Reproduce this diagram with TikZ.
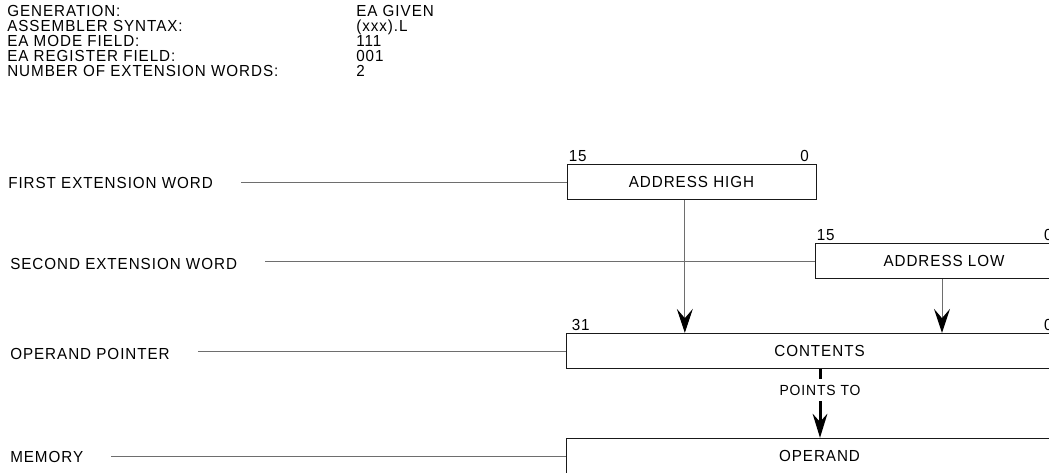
\documentclass[tikz,border=0pt]{standalone}
\usepackage{fontspec}
\setmainfont{Liberation Sans}[FakeStretch=0.95, LetterSpace=6]
\usetikzlibrary{arrows.meta}

\begin{document}
\begin{tikzpicture}[x=0.75pt,y=0.75pt,yscale=-1,xscale=1,
  every node/.style={font=\fontsize{12}{13}\selectfont},
  info/.style={anchor=west, inner sep=0pt},
  head/.style={anchor=base west, inner sep=0pt},
  word/.style={draw={rgb, 255:red, 25; green, 25; blue, 25}, line width=0.75pt, minimum height=26.5pt, inner sep=0pt},
  bit/.style={inner sep=1.5pt},
  lead/.style={draw={rgb, 255:red, 110; green, 110; blue, 110}, line width=0.75pt, shorten <=21pt},
  feed/.style={draw={rgb, 255:red, 110; green, 110; blue, 110}, line width=0.75pt, -{Stealth[length=18pt, width=12pt, inset=7pt, color=black, fill=black]}},
  ptr/.style={draw=black, line width=2.25pt}]
\clip (0,0) rectangle (1049,472);

% Text Node
\node[head] (gen) at (7,16.5) {GENERATION:};
% Text Node
\node[head] (asm) at (7,31.5) {ASSEMBLER SYNTAX:};
% Text Node
\node[head] (mode) at (7,46.5) {EA MODE FIELD:};
% Text Node
\node[head] (reg) at (7,61.5) {EA REGISTER FIELD:};
% Text Node
\node[head] (num) at (7,76.5) {NUMBER OF EXTENSION WORDS:};
% Text Node
\node[head] (genv) at (356,16.5) {EA GIVEN};
% Text Node
\node[head] (asmv) at (356,31.5) {(xxx).L};
% Text Node
\node[head] (modev) at (356,46.5) {111};
% Text Node
\node[head] (regv) at (356,61.5) {001};
% Text Node
\node[head] (numv) at (356,76.5) {2};

%Shape: Rectangle [first extension word]
\node[word, minimum width=186.75pt] (high) at (691.5,182) {ADDRESS HIGH};
\node[bit, anchor=south west] (high15) at (high.north west) {15};
\node[bit, anchor=south east] (high0) at ([xshift=-4pt]high.north east) {0};
%Shape: Rectangle [second extension word]
\node[word, minimum width=193.5pt] (low) at (944,261) {ADDRESS LOW};
\node[bit, anchor=south west] (low15) at (low.north west) {15};
\node[bit, anchor=south east] (low0) at ([xshift=-14pt]low.north east) {0};
%Shape: Rectangle [operand pointer]
\node[word, minimum width=380.25pt] (contents) at (819.5,351) {CONTENTS};
\node[bit, anchor=south west] (cont31) at ([xshift=3pt]contents.north west) {31};
\node[bit, anchor=south east] (cont0) at ([xshift=-14pt]contents.north east) {0};
%Shape: Rectangle [memory]
\node[word, minimum width=380.25pt] (operand) at (819.5,456) {OPERAND};

% Text Node
\node[info] (first) at (8,183) {FIRST EXTENSION WORD};
% Text Node
\node[info] (second) at (10,264) {SECOND EXTENSION WORD};
% Text Node
\node[info] (pointer) at (10,354) {OPERAND POINTER};
% Text Node
\node[info] (memory) at (10,457) {MEMORY};

%Straight Lines
\draw[lead] (first.east |- high.west) -- (high.west);
\draw[lead] (second.east |- low.west) -- (low.west);
\draw[lead] (pointer.east |- contents.west) -- (contents.west);
\draw[lead] (memory.east |- operand.west) -- (operand.west);

%Straight Lines
\draw[feed] ([xshift=-5pt]high.south) -- ([xshift=-5pt]high.south |- contents.north);
\draw[feed] ([xshift=-1.5pt]low.south) -- ([xshift=-1.5pt]low.south |- contents.north);

% Text Node
\node[inner xsep=1pt, inner ysep=4.4pt, font=\fontsize{11}{12}\selectfont] (points) at (820,390) {POINTS TO};
\draw[ptr] (points.north |- contents.south) -- (points.north);
\draw[ptr, -{Stealth[length=18pt, width=11pt, inset=6pt]}] (points.south) -- (points.south |- operand.north);

\end{tikzpicture}
\end{document}
